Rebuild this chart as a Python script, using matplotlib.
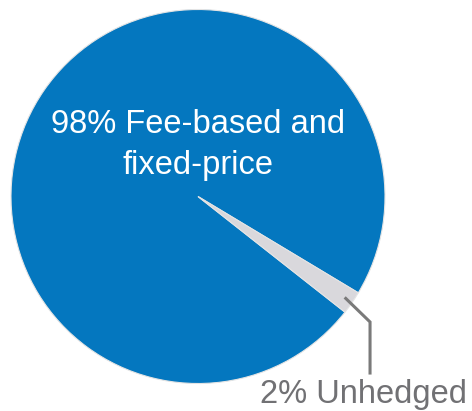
import numpy as np
import matplotlib
matplotlib.use("Agg")
import matplotlib.pyplot as plt

plt.rcParams["font.family"] = ["Liberation Sans", "DejaVu Sans"]

BLUE, GREY, INK = "#0477bf", "#d9d8dc", "#717174"
labels = ["98% Fee-based and\nfixed-price", "2% Unhedged"]
shares = [98, 2]

fig = plt.figure(figsize=(4.72, 4.11), dpi=100)
W, H = 472, 411
cx, cy, r = 198, 196.5, 187
ax = fig.add_axes([(cx - r) / W, (H - cy - r) / H, 2 * r / W, 2 * r / H])
wedges, _ = ax.pie(shares, colors=[BLUE, GREY], startangle=-31, counterclock=True,
                   wedgeprops=dict(edgecolor="#e4e4e4", linewidth=0.8))
ax.set_xlim(-1, 1); ax.set_ylim(-1, 1); ax.set_aspect("equal")
ax.axis("off")

# big label, one line at a time (baselines)
for line, yb in zip(labels[0].split("\n"), [0.340, 0.120]):
    ax.text(0, yb, line, color="white", fontsize=23.5, ha="center", va="baseline")

# leader line from the small wedge
w = wedges[1]
mid = np.deg2rad((w.theta1 + w.theta2) / 2)
x0, y0 = 0.96 * np.cos(mid), 0.96 * np.sin(mid)
ex, ey = 0.92, -0.671
ax.plot([x0, ex, ex], [y0, ey, -0.944], color="#7a7a7a", lw=2.2, clip_on=False,
        solid_joinstyle="miter")
ax.text(0.885, -1.104, labels[1], color=INK, fontsize=23.5, ha="center", va="baseline")

fig.savefig("out.png", dpi=100)
